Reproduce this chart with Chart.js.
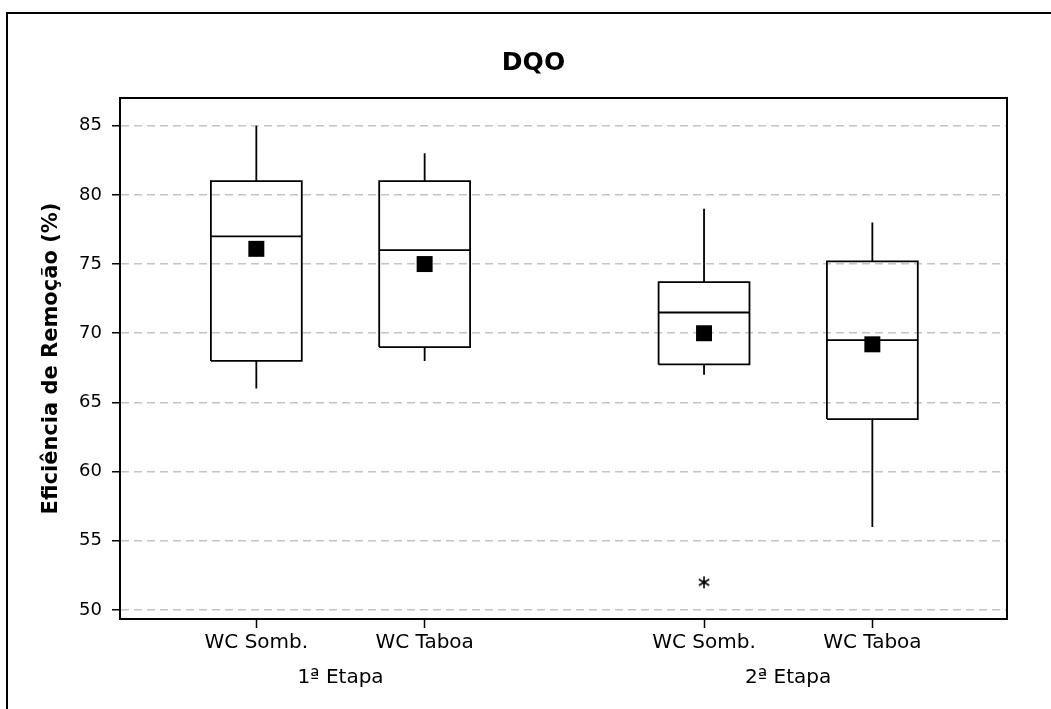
<!DOCTYPE html>
<html>
<head>
<meta charset="utf-8">
<script src="https://cdn.jsdelivr.net/npm/chart.js@4"></script>
<style>
  html, body { margin: 0; padding: 0; background: #fff; overflow: hidden; }
  #wrap { position: relative; width: 1051px; height: 709px; }
  #frame { position: absolute; left: 6px; top: 12px; width: 1100px; height: 800px; border: 2px solid #000; pointer-events: none; }
</style>
</head>
<body>
<div id="wrap"><canvas id="chart"></canvas><div id="frame"></div></div>
<script>
const groups = ["1ª Etapa", "2ª Etapa"];
const categories = ["WC Somb.", "WC Taboa", "WC Somb.", "WC Taboa"];
const groupOf = [0, 0, 1, 1];
const whiskerLow = [66, 68, 67, 56];
const q1 = [68, 69, 67.75, 63.8];
const median = [77, 76, 71.5, 69.5];
const q3 = [81, 81, 73.7, 75.2];
const whiskerHigh = [85, 83, 79, 78];
const means = [76.1, 75.0, 70.0, 69.2];
const outliers = [[], [], [52], []];
const yTicks = [50, 55, 60, 65, 70, 75, 80, 85];

// one unit per box on a linear x axis, with an extra gap between the groups
const GROUP_GAP = 0.66;
const BOX_W = 0.54;
const xPos = categories.map((c, i) => i + 1 + groupOf[i] * GROUP_GAP);
const groupPos = groups.map((g, gi) => {
  const xs = xPos.filter((x, i) => groupOf[i] === gi);
  return (xs[0] + xs[xs.length - 1]) / 2;
});

const FONT = "'DejaVu Sans', Verdana, sans-serif";

// boxes, medians and whiskers as one broken line
const boxLines = [];
xPos.forEach((x, i) => {
  const l = x - BOX_W / 2, r = x + BOX_W / 2;
  boxLines.push({x: l, y: q1[i]}, {x: r, y: q1[i]}, {x: r, y: q3[i]}, {x: l, y: q3[i]}, {x: l, y: q1[i]}, {x: l, y: null});
  boxLines.push({x: l, y: median[i]}, {x: r, y: median[i]}, {x: r, y: null});
  boxLines.push({x: x, y: q3[i]}, {x: x, y: whiskerHigh[i]}, {x: x, y: null});
  boxLines.push({x: x, y: q1[i]}, {x: x, y: whiskerLow[i]}, {x: x, y: null});
});

const meanPoints = xPos.map((x, i) => ({x: x, y: means[i]}));
const outlierPoints = [];
outliers.forEach((list, i) => list.forEach(v => outlierPoints.push({x: xPos[i], y: v})));

// six-armed asterisk used as the outlier symbol
const asterisk = document.createElement("canvas");
asterisk.width = 14;
asterisk.height = 14;
(function () {
  const c = asterisk.getContext("2d");
  c.strokeStyle = "#000";
  c.lineWidth = 1.6;
  c.beginPath();
  for (let k = 0; k < 3; k++) {
    const a = Math.PI / 2 + k * Math.PI / 3;
    c.moveTo(7 + 6 * Math.cos(a), 7 + 6 * Math.sin(a));
    c.lineTo(7 - 6 * Math.cos(a), 7 - 6 * Math.sin(a));
  }
  c.stroke();
})();

const plotFrame = {
  id: "plotFrame",
  afterDatasetsDraw(chart) {
    const {ctx, chartArea: a} = chart;
    ctx.save();
    ctx.strokeStyle = "#000";
    ctx.lineWidth = 2;
    ctx.strokeRect(a.left, a.top, a.right - a.left, a.bottom - a.top);
    ctx.restore();
  }
};

new Chart(document.getElementById("chart").getContext("2d"), {
  type: "scatter",
  data: {
    datasets: [
      {
        data: boxLines,
        showLine: true,
        spanGaps: false,
        borderColor: "#000",
        borderWidth: 1.8,
        pointRadius: 0
      },
      {
        data: meanPoints,
        pointStyle: "rect",
        pointRadius: 11.3,
        backgroundColor: "#000",
        borderWidth: 0
      },
      {
        data: outlierPoints,
        pointStyle: asterisk,
        pointRadius: 7
      }
    ]
  },
  options: {
    responsive: true,
    maintainAspectRatio: false,
    animation: false,
    layout: { padding: { left: 16, right: 0, top: 0, bottom: 0 } },
    plugins: {
      legend: { display: false },
      tooltip: { enabled: false },
      title: {
        display: true,
        text: "DQO",
        color: "#000",
        font: { family: FONT, size: 25, weight: "bold" },
        padding: { top: 48, bottom: 20 }
      }
    },
    scales: {
      x: {
        type: "linear",
        position: "bottom",
        min: 0.19,
        max: 5.46,
        afterBuildTicks: s => { s.ticks = xPos.map(v => ({value: v})); },
        afterFit: s => { s.height = 34; },
        ticks: {
          callback: (v, i) => categories[i],
          color: "#000",
          font: { family: FONT, size: 20 },
          padding: 3,
          maxRotation: 0,
          autoSkip: false
        },
        grid: { drawOnChartArea: false, tickLength: 9, tickColor: "#000", tickWidth: 1.5 },
        border: { color: "#000", width: 2 }
      },
      x2: {
        type: "linear",
        position: "bottom",
        weight: 1,
        min: 0.19,
        max: 5.46,
        afterBuildTicks: s => { s.ticks = groupPos.map(v => ({value: v})); },
        afterFit: s => { s.height = 56; },
        ticks: {
          callback: (v, i) => groups[i],
          color: "#000",
          font: { family: FONT, size: 20 },
          padding: 5,
          maxRotation: 0,
          autoSkip: false
        },
        grid: { display: false },
        border: { display: false }
      },
      y: {
        min: 49.35,
        max: 87,
        afterBuildTicks: s => { s.ticks = yTicks.map(v => ({value: v})); },
        afterFit: s => { s.width = 104; },
        ticks: {
          color: "#000",
          font: { family: FONT, size: 18 },
          padding: 10
        },
        grid: { color: "#c4c4c4", lineWidth: 1.5, tickColor: "#000", tickLength: 8, tickWidth: 1.5 },
        border: { color: "#000", width: 2, dash: [8, 5] },
        title: {
          display: true,
          text: "Eficiência de Remoção (%)",
          color: "#000",
          font: { family: FONT, size: 21, weight: "bold" },
          padding: { top: 23.4, bottom: 0 }
        }
      },
      yRight: {
        position: "right",
        afterFit: s => { s.width = 44; },
        ticks: { display: false },
        grid: { display: false },
        border: { display: false }
      }
    }
  },
  plugins: [plotFrame]
});
</script>
</body>
</html>
